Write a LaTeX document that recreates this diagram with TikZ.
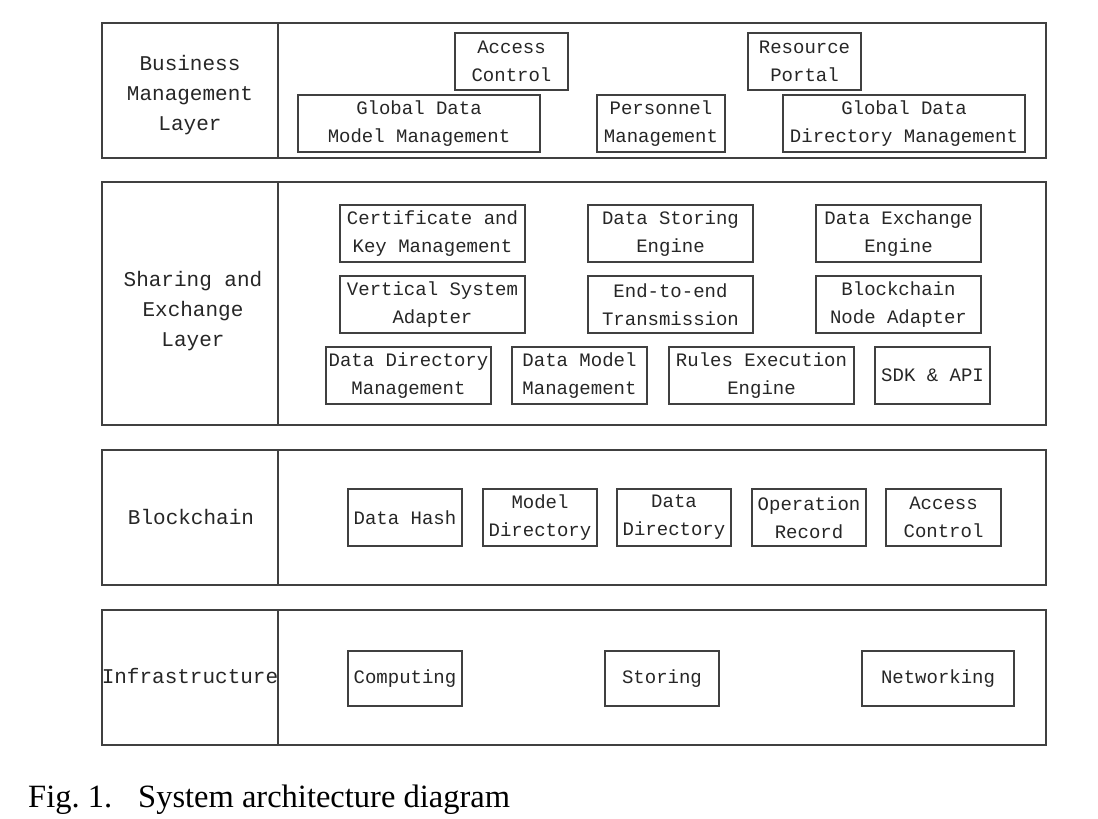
\documentclass[tikz,border=0pt]{standalone}
\usepackage{fontspec}
\setmainfont{Liberation Serif}
\setmonofont{Liberation Mono}
\begin{document}
\begin{tikzpicture}[x=1pt,y=-1pt,
  layerline/.style={draw=black!75, line width=1.3pt},
  bx/.style={draw=black!75, line width=1.2pt, inner sep=0pt, align=center,
    font=\fontsize{19}{28}\selectfont\ttfamily, text=black!85},
  lbl/.style={align=center, font=\fontsize{21}{30}\selectfont\ttfamily, text=black!85},
  captext/.style={anchor=base west, inner sep=0pt, font=\fontsize{32.5}{34}\selectfont}]
\useasboundingbox (0,0) rectangle (1098,819);
% layers
\foreach \ya/\yb in {23/158,182/425,450/585,610/745}{
  \draw[layerline] (102,\ya) rectangle (1046,\yb);
  \draw[layerline] (278,\ya) -- (278,\yb);
}
% layer labels
\node[lbl] (lbus) at (190,95.5) {Business\\Management\\Layer};
\node[lbl] (lsha) at (193,311) {Sharing and\\Exchange\\Layer};
\node[lbl] (lblk) at (191,517) {Blockchain};
\node[lbl] (linf) at (190,676) {Infrastructure};
% business
\node[bx, minimum width=113, minimum height=57] (ac1) at (511.5,61.5) {Access\\Control};
\node[bx, minimum width=113, minimum height=57] (rp) at (804.5,61.5) {Resource\\Portal};
\node[bx, minimum width=242, minimum height=57] (gdmm) at (419,123.5) {Global Data\\Model Management};
\node[bx, minimum width=128, minimum height=57] (pm) at (661,123.5) {Personnel\\Management};
\node[bx, minimum width=242, minimum height=57] (gddm) at (904,123.5) {Global Data\\Directory Management};
% sharing
\node[bx, minimum width=185, minimum height=57] (ckm) at (432.5,233.5) {Certificate and\\Key Management};
\node[bx, minimum width=165, minimum height=57] (dse) at (670.5,233.5) {Data Storing\\Engine};
\node[bx, minimum width=165, minimum height=57] (dee) at (898.5,233.5) {Data Exchange\\Engine};
\node[bx, minimum width=185, minimum height=57] (vsa) at (432.5,304.5) {Vertical System\\Adapter};
\node[bx, minimum width=165, minimum height=57] (e2e) at (670.5,304.5) {End-to-end\\Transmission};
\node[bx, minimum width=165, minimum height=57] (bna) at (898.5,304.5) {Blockchain\\Node Adapter};
\node[bx, minimum width=165, minimum height=57] (ddm) at (408.5,375.5) {Data Directory\\Management};
\node[bx, minimum width=135, minimum height=57] (dmm) at (579.5,375.5) {Data Model\\Management};
\node[bx, minimum width=185, minimum height=57] (ree) at (761.5,375.5) {Rules Execution\\Engine};
\node[bx, minimum width=115, minimum height=57] (sdk) at (932.5,375.5) {SDK \& API};
% blockchain
\node[bx, minimum width=114, minimum height=57] (dh) at (405,517.5) {Data Hash};
\node[bx, minimum width=114, minimum height=57] (md) at (540,517.5) {Model\\Directory};
\node[bx, minimum width=114, minimum height=57] (dd) at (674,517.5) {Data\\Directory};
\node[bx, minimum width=114, minimum height=57] (opr) at (809,517.5) {Operation\\Record};
\node[bx, minimum width=115, minimum height=57] (ac2) at (943.5,517.5) {Access\\Control};
% infrastructure
\node[bx, minimum width=114, minimum height=55] (cmp) at (405,678.5) {Computing};
\node[bx, minimum width=114, minimum height=55] (sto) at (662,678.5) {Storing};
\node[bx, minimum width=152, minimum height=55] (net) at (938,678.5) {Networking};
% caption
\node[captext] (capa) at (28,807) {Fig.\ 1.};
\node[captext] (capb) at (138,807) {System architecture diagram};
\end{tikzpicture}
\end{document}
